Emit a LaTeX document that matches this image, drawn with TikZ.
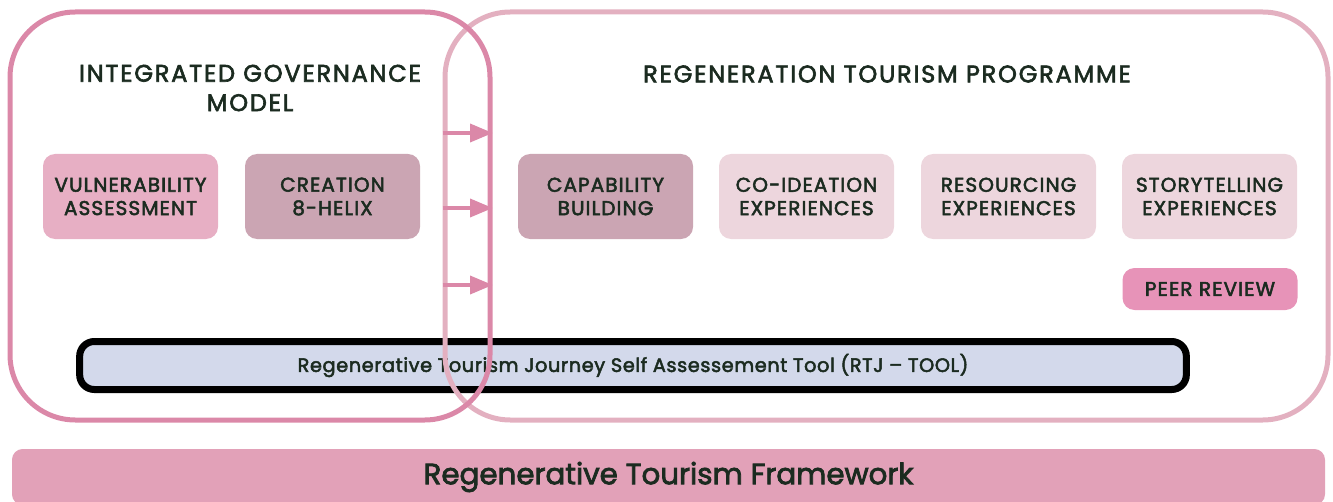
\documentclass[tikz,border=0pt]{standalone}
\usepackage{fontspec}
\setmainfont{Poppins}[BoldFont={Poppins},BoldFeatures={FakeBold=2.6}]
\usepackage{tikz}
\usetikzlibrary{arrows}

\definecolor{govline}{HTML}{DB88A8}
\definecolor{progline}{HTML}{E3B0C0}
\definecolor{inktext}{HTML}{1B2B20}
\definecolor{vulnfill}{HTML}{E7AFC4}
\definecolor{mauvefill}{HTML}{CBA5B3}
\definecolor{palefill}{HTML}{EDD6DD}
\definecolor{peerfill}{HTML}{E793B8}
\definecolor{toolfill}{HTML}{D3D9EB}
\definecolor{basefill}{HTML}{E2A1B8}

\begin{document}
\begin{tikzpicture}[x=0.75pt,y=-0.75pt,
    panel/.style={rounded corners=49pt,line width=3.75pt,minimum height=306pt},
    stage/.style={rounded corners=9pt,minimum width=131.25pt,minimum height=63.75pt,
                  align=center,text=inktext,
                  font=\fontsize{15}{17.5}\selectfont\bfseries\addfontfeatures{LetterSpace=5.5}},
    heading/.style={align=center,text=inktext,
                    font=\fontsize{18}{22}\selectfont\bfseries\addfontfeatures{LetterSpace=7.5}},
    feed/.style={govline,line width=3pt,-triangle 45}]
  \useasboundingbox (0,0) rectangle (1333,502);

  % bottom bar
  \node[fill=basefill,rounded corners=8pt,minimum width=984.75pt,minimum height=42pt,
        text=inktext,font=\fontsize{22}{26}\selectfont\bfseries]
        (base) at (668.5,477) {Regenerative Tourism Framework};

  % self assessment tool
  \node[fill=toolfill,draw=black,line width=5.25pt,rounded corners=11pt,
        minimum width=830pt,minimum height=36pt,text=inktext,
        font=\fontsize{14.5}{17}\selectfont\bfseries\addfontfeatures{LetterSpace=3}]
        (rtj) at (633,365.5) {Regenerative Tourism Journey Self Assessement Tool (RTJ -- TOOL)};

  % the two panels
  \node[panel,draw=progline,minimum width=662.25pt] (prog) at (886.5,216) {};
  \node[panel,draw=govline,minimum width=360pt]     (gov)  at (250,216) {};

  \node[heading] (govtitle)  at (250,88)   {INTEGRATED GOVERNANCE\\MODEL};
  \node[heading] (progtitle) at (887,74)   {REGENERATION TOURISM PROGRAMME};

  \node[stage,fill=vulnfill]  (vuln)  at (130.5,196.5)  {VULNERABILITY\\ASSESSMENT};
  \node[stage,fill=mauvefill] (helix) at (332.5,196.5)  {CREATION\\8-HELIX};
  \node[stage,fill=mauvefill] (cap)   at (605.5,196.5)  {CAPABILITY\\BUILDING};
  \node[stage,fill=palefill]  (coid)  at (806.5,196.5)  {CO-IDEATION\\EXPERIENCES};
  \node[stage,fill=palefill]  (res)   at (1008.5,196.5) {RESOURCING\\EXPERIENCES};
  \node[stage,fill=palefill]  (story) at (1209.5,196.5) {STORYTELLING\\EXPERIENCES};
  \node[stage,fill=peerfill,minimum height=31.5pt] (peer) at (1210,289) {PEER REVIEW};

  \draw[feed] (prog.west |- 0,133) to (gov.east |- 0,133);
  \draw[feed] (prog.west |- 0,208) to (gov.east |- 0,208);
  \draw[feed] (prog.west |- 0,285) to (gov.east |- 0,285);
\end{tikzpicture}
\end{document}
